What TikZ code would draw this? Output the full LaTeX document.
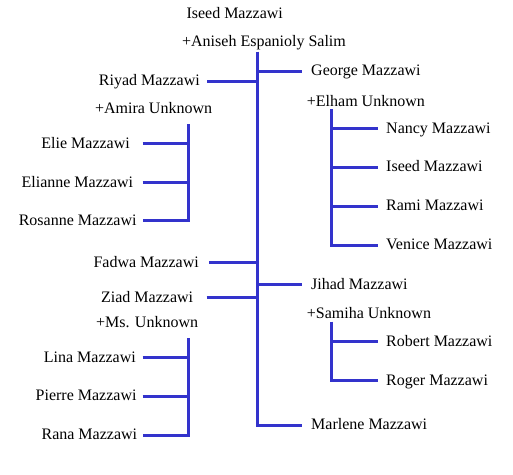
\documentclass[tikz,border=0pt]{standalone}
\usepackage{fontspec}
\setmainfont{Liberation Serif}
\usepackage{tikz}
\definecolor{treeblue}{RGB}{51,51,204}
\newcommand{\pname}[1]{\lower2.5pt\hbox{#1}}

\begin{document}
\begin{tikzpicture}[x=1pt,y=-1pt,
    font=\fontsize{16}{19}\selectfont,
    link/.style={draw=treeblue, line width=3pt, line join=miter},
    lname/.style={anchor=mid east, inner ysep=0pt, inner xsep=#1},
    rname/.style={anchor=mid west, inner ysep=0pt, inner xsep=#1},
    spouse/.style={inner sep=0pt}]
    \useasboundingbox (0,0) rectangle (513,474);
    % couple at the top
    \node[spouse, anchor=base] (iseed) at (234.7,18.5) {Iseed Mazzawi};
    \node[spouse, anchor=base] (aniseh) at (264,46) {+Aniseh Espanioly Salim};
    \coordinate (trunk) at (257,51.7);
    % children
    \node[lname=7.3] (riyad) at (207.3,81) {\pname{Riyad Mazzawi}};
    \node[spouse, anchor=base east] (amira) at (212.3,113.3) {+Amira Unknown};
    \node[lname=10] (fadwa) at (209,262.3) {\pname{Fadwa Mazzawi}};
    \node[lname=13.4] (ziad) at (206.7,297.3) {\pname{Ziad Mazzawi}};
    \node[spouse, anchor=base east] (msunknown) at (198.3,327.3) {+Ms. Unknown};
    \node[rname=8.7] (george) at (302.3,71) {\pname{George Mazzawi}};
    \node[spouse, anchor=base west] (elham) at (306.7,106.3) {+Elham Unknown};
    \node[rname=8.7] (jihad) at (302.3,284.3) {\pname{Jihad Mazzawi}};
    \node[spouse, anchor=base west] (samiha) at (306.7,318.3) {+Samiha Unknown};
    \node[rname=8.7] (marlene) at (302.3,425) {\pname{Marlene Mazzawi}};
    \draw[link] (trunk) -- (trunk |- marlene.mid west) -- (marlene.mid west);
    \foreach \p in {riyad,fadwa,ziad}
        \draw[link] (\p.mid east) -- (\p.mid east -| trunk);
    \foreach \p in {george,jihad}
        \draw[link] (\p.mid west -| trunk) -- (\p.mid west);
    % grandchildren
    \coordinate (riyadkids) at (188.3,124);
    \coordinate (ziadkids) at (188.3,338.3);
    \coordinate (georgekids) at (331.7,109);
    \coordinate (jihadkids) at (331.7,321.7);
    \foreach \nm/\yy/\gap [count=\k] in {Elie/143.7/12.7,Elianne/182.3/9.4,Rosanne/220.7/6}
        \node[lname=\gap] (rk\k) at (142.7,\yy) {\pname{\nm\ Mazzawi}};
    \foreach \nm/\yy/\gap [count=\k] in {Lina/357.3/6.7,Pierre/396/6,Rana/435/5.4}
        \node[lname=\gap] (zk\k) at (142.7,\yy) {\pname{\nm\ Mazzawi}};
    \foreach \nm/\yy [count=\k] in {Nancy/128.3,Iseed/167,Rami/206,Venice/245}
        \node[rname=8.3] (gk\k) at (377.7,\yy) {\pname{\nm\ Mazzawi}};
    \foreach \nm/\yy [count=\k] in {Robert/341.7,Roger/380.7}
        \node[rname=8.3] (jk\k) at (377.7,\yy) {\pname{\nm\ Mazzawi}};
    \draw[link] (riyadkids) -- (riyadkids |- rk3.mid east) -- (rk3.mid east);
    \draw[link] (ziadkids) -- (ziadkids |- zk3.mid east) -- (zk3.mid east);
    \draw[link] (georgekids) -- (georgekids |- gk4.mid west) -- (gk4.mid west);
    \draw[link] (jihadkids) -- (jihadkids |- jk2.mid west) -- (jk2.mid west);
    \foreach \k in {1,2} {
        \draw[link] (rk\k.mid east) -- (rk\k.mid east -| riyadkids);
        \draw[link] (zk\k.mid east) -- (zk\k.mid east -| ziadkids);
    }
    \foreach \k in {1,2,3}
        \draw[link] (gk\k.mid west -| georgekids) -- (gk\k.mid west);
    \draw[link] (jk1.mid west -| jihadkids) -- (jk1.mid west);
\end{tikzpicture}
\end{document}
